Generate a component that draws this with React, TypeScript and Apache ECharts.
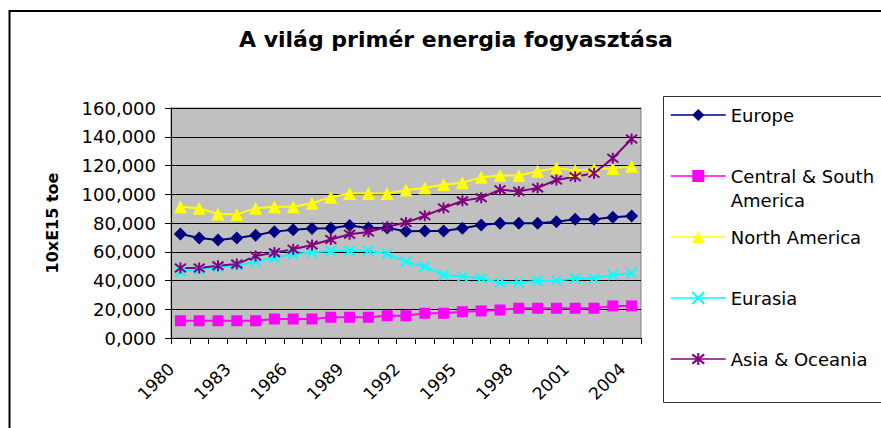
import React, { useEffect, useRef } from "react";
import * as echarts from "echarts";

const years = [
  "1980", "1981", "1982", "1983", "1984", "1985", "1986", "1987", "1988", "1989",
  "1990", "1991", "1992", "1993", "1994", "1995", "1996", "1997", "1998", "1999",
  "2000", "2001", "2002", "2003", "2004",
];

const europe = [
  72300, 69600, 68200, 69600, 71500, 74000, 75300, 76200, 76300, 78300,
  76500, 76600, 74300, 74400, 74400, 76300, 78600, 79800, 79800, 79800,
  80900, 82600, 82600, 84000, 84900,
];

const centralSouthAmerica = [
  12000, 12000, 12000, 12000, 12000, 13200, 13200, 13200, 14400, 14400,
  14400, 15500, 15500, 17200, 17200, 18300, 18800, 19500, 20700, 20700,
  20700, 20700, 20700, 22300, 22300,
];

const northAmerica = [
  91300, 90200, 86300, 86000, 90200, 91300, 91300, 93700, 97900, 100600,
  100600, 100600, 103000, 104400, 106800, 108000, 111800, 113000, 113000, 116000,
  118200, 116600, 117400, 118000, 119500,
];

const eurasia = [
  46300, 47600, 49000, 50500, 53000, 56000, 58300, 59600, 60500, 60700,
  60700, 58400, 53000, 49600, 43800, 42700, 41500, 38500, 38500, 39900,
  39900, 41500, 41500, 43800, 45000,
];

const asiaOceania = [
  48700, 48700, 50200, 51400, 57000, 59400, 61800, 64700, 68500, 72200,
  73700, 77400, 80300, 85000, 90400, 95400, 97500, 103200, 102000, 104400,
  109900, 112200, 114600, 125000, 138400,
];

const seriesNames = [
  "Europe",
  "Central & South America",
  "North America",
  "Eurasia",
  "Asia & Oceania",
];

const FONT = "'DejaVu Sans', sans-serif";

export default function App() {
  const ref = useRef<HTMLDivElement>(null);

  useEffect(() => {
    if (!ref.current) return;
    const chart = echarts.init(ref.current, null, { renderer: "svg" });

    const mk = (
      name: string,
      data: number[],
      color: string,
      symbol: string,
      symbolSize: number,
      stroke: boolean
    ) => ({
      name,
      type: "line",
      data,
      symbol,
      symbolSize,
      showSymbol: true,
      showAllSymbol: true,
      lineStyle: { color, width: 2 },
      itemStyle: stroke
        ? { color, borderColor: color, borderWidth: 2 }
        : { color, borderColor: color, borderWidth: 0 },
      emphasis: { disabled: true },
      z: 3,
    });

    chart.setOption({
      animation: false,
      backgroundColor: "#ffffff",
      title: {
        text: "A világ primér energia fogyasztása",
        left: 234,
        top: 23,
        padding: 5,
        textStyle: {
          fontFamily: FONT,
          fontSize: 22,
          fontWeight: "bold",
          color: "#000",
        },
      },
      graphic: [
        {
          type: "rect",
          silent: true,
          shape: { x: 9.5, y: 11, width: 1000, height: 1000 },
          style: { fill: "none", stroke: "#000", lineWidth: 2 },
        },
        {
          type: "rect",
          silent: true,
          shape: { x: 663.5, y: 96.5, width: 300, height: 306 },
          style: { fill: "none", stroke: "#333", lineWidth: 1 },
        },
      ],
      legend: {
        orient: "vertical",
        left: 670,
        top: 79,
        padding: 0,
        itemGap: -11,
        itemWidth: 55,
        itemHeight: 15,
        data: seriesNames,
        selectedMode: false,
        lineStyle: { width: 1.5 },
        formatter: (name: string) =>
          name === "Central & South America"
            ? "\nCentral & South\nAmerica"
            : "\n" + name + "\n",
        textStyle: {
          fontFamily: FONT,
          fontSize: 18,
          lineHeight: 24,
          color: "#000",
        },
      },
      grid: {
        left: 171,
        right: 240,
        top: 108,
        bottom: 90,
        show: true,
        backgroundColor: "#C0C0C0",
        borderColor: "#808080",
        borderWidth: 1,
        containLabel: false,
        outerBoundsMode: "none",
      },
      xAxis: {
        type: "category",
        data: years,
        boundaryGap: true,
        axisLine: { show: true, lineStyle: { color: "#000", width: 1 } },
        axisTick: {
          show: true,
          interval: 0,
          length: 6,
          inside: false,
          alignWithLabel: false,
          lineStyle: { color: "#000", width: 1 },
        },
        axisLabel: {
          interval: 2,
          rotate: 45,
          margin: 19,
          padding: [0, 13, 0, 0],
          fontFamily: FONT,
          fontSize: 17,
          color: "#000",
        },
        splitLine: { show: false },
      },
      yAxis: {
        type: "value",
        min: 0,
        max: 160000,
        interval: 20000,
        name: "10xE15 toe",
        nameLocation: "middle",
        nameRotate: 90,
        nameGap: 111,
        nameTextStyle: {
          fontFamily: FONT,
          fontSize: 16,
          fontWeight: "bold",
          color: "#000",
        },
        axisLine: { show: true, lineStyle: { color: "#000", width: 1 } },
        axisTick: {
          show: true,
          length: 6,
          inside: false,
          lineStyle: { color: "#000", width: 1 },
        },
        axisLabel: {
          margin: 15,
          fontFamily: FONT,
          fontSize: 18,
          color: "#000",
          formatter: (v: number) => `${v / 1000},000`,
        },
        splitLine: { show: true, lineStyle: { color: "#000", width: 1 } },
      },
      series: [
        mk(seriesNames[0], europe, "#000080", "diamond", 13, false),
        mk(seriesNames[1], centralSouthAmerica, "#FF00FF", "rect", 11, false),
        mk(seriesNames[2], northAmerica, "#FFFF00", "triangle", 13, false),
        mk(seriesNames[3], eurasia, "#00FFFF", "path://M0 0L10 10M10 0L0 10", 10, true),
        mk(
          seriesNames[4],
          asiaOceania,
          "#800080",
          "path://M0 0L10 10M10 0L0 10M5 -1.5L5 11.5",
          11,
          true
        ),
      ],
    });

    return () => chart.dispose();
  }, []);

  return (
    <div
      ref={ref}
      style={{ position: "fixed", left: 0, top: 0, width: 881, height: 428 }}
    />
  );
}
